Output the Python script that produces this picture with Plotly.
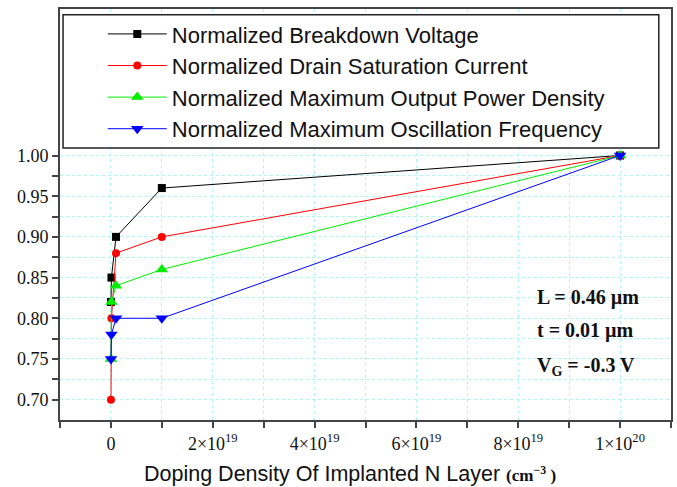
import plotly.graph_objects as go

# Doping density of the implanted N layer (cm^-3)
doping = [1e16, 1e17, 1e18, 1e19, 1e20]

# Normalized device figures of merit
breakdown_voltage = [0.82, 0.85, 0.90, 0.96, 1.00]
drain_sat_current = [0.70, 0.80, 0.88, 0.90, 1.00]
max_output_power = [0.75, 0.82, 0.84, 0.86, 1.00]
max_osc_frequency = [0.75, 0.78, 0.80, 0.80, 1.00]

series_names = [
    "Normalized Breakdown Voltage",
    "Normalized Drain Saturation Current",
    "Normalized Maximum Output Power Density",
    "Normalized Maximum Oscillation Frequency",
]

# Labelled ticks and unlabelled in-between ticks
x_tickvals = [0, 2e19, 4e19, 6e19, 8e19, 1e20]
x_ticktext = ["0", "2×10<sup>19</sup>", "4×10<sup>19</sup>",
              "6×10<sup>19</sup>", "8×10<sup>19</sup>", "1×10<sup>20</sup>"]
x_minorvals = [-1e19, 1e19, 3e19, 5e19, 7e19, 9e19, 1.1e20]
y_tickvals = [0.70, 0.75, 0.80, 0.85, 0.90, 0.95, 1.00]
y_ticktext = ["0.70", "0.75", "0.80", "0.85", "0.90", "0.95", "1.00"]
y_minorvals = [0.725, 0.775, 0.825, 0.875, 0.925, 0.975]

SANS = "Arial, Liberation Sans, sans-serif"
SERIF = "Times New Roman, Liberation Serif, serif"

styles = [
    ("#000000", "square", 8),
    ("#ff0000", "circle", 8),
    ("#00ee00", "triangle-up", 11),
    ("#0000ff", "triangle-down", 11),
]
values = [breakdown_voltage, drain_sat_current, max_output_power, max_osc_frequency]

fig = go.Figure()
for name, ys, (color, symbol, size) in zip(series_names, values, styles):
    fig.add_trace(go.Scatter(
        x=doping, y=ys, name=name, mode="lines+markers",
        line=dict(color=color, width=1),
        marker=dict(symbol=symbol, size=size, color=color, line=dict(width=0)),
    ))

# White legend panel across the top of the plot area
fig.add_shape(type="rect", xref="paper", yref="paper",
              x0=0.005, x1=0.98, y0=0.662, y1=0.986,
              fillcolor="white", line=dict(color="#222", width=1.5), layer="above")

GRID = "#b0f4f4"
axis_common = dict(
    showline=True, linecolor="#444", linewidth=2, mirror=True,
    ticks="outside", ticklen=6, tickwidth=1.5, tickcolor="#444",
    showgrid=True, gridcolor=GRID, gridwidth=1, griddash="dot",
    zeroline=False, tickmode="array",
)


def minor_ticks(vals):
    return dict(tickmode="array", tickvals=vals, ticks="outside", ticklen=6,
                tickwidth=1.5, tickcolor="#444", showgrid=True,
                gridcolor=GRID, gridwidth=1, griddash="dot")


fig.update_xaxes(
    range=[-1e19, 1.1e20], tickvals=x_tickvals, ticktext=x_ticktext,
    tickfont=dict(family=SERIF, size=18, color="#111"),
    minor=minor_ticks(x_minorvals),
    **axis_common,
)
fig.update_yaxes(
    range=[0.675, 1.18], tickvals=y_tickvals, ticktext=y_ticktext,
    tickfont=dict(family=SERIF, size=18, color="#111"),
    minor=minor_ticks(y_minorvals),
    **axis_common,
)

# X-axis title
fig.add_annotation(
    x=0.475, y=-0.131, xref="paper", yref="paper", showarrow=False,
    xanchor="center", yanchor="middle",
    text="Doping Density Of Implanted N Layer "
         "<b><span style='font-family:Liberation Serif;font-size:17px'>(cm<sup>−3</sup> )</span></b>",
    font=dict(family=SANS, size=21.5, color="#111"),
)

# Device parameters
ann_rows = [("<b>L = 0.46 µm</b>", 297), ("<b>t = 0.01 µm</b>", 330),
            ("<b>V<sub>G</sub> = -0.3 V</b>", 366)]
for text, py in ann_rows:
    fig.add_annotation(x=(537 - 60) / 613, y=(420 - py) / 411, xref="paper", yref="paper",
                       text=text, showarrow=False, xanchor="left", yanchor="middle",
                       font=dict(family=SERIF, size=20, color="#111"))

fig.update_layout(
    width=677, height=487,
    margin=dict(l=60, r=4, t=9, b=67),
    paper_bgcolor="white", plot_bgcolor="white",
    showlegend=True,
    legend=dict(
        x=0.070, y=0.990, xanchor="left", yanchor="top",
        bgcolor="rgba(0,0,0,0)", borderwidth=0,
        font=dict(family=SANS, size=22, color="#111"),
        itemwidth=59, tracegroupgap=0,
    ),
)

fig.write_html("out.html")
